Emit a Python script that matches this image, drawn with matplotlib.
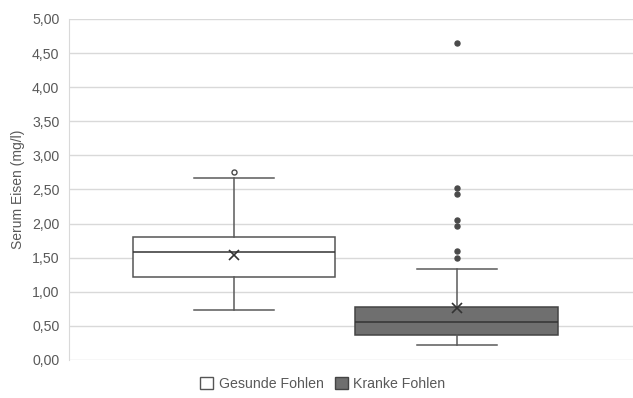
import matplotlib.pyplot as plt
from matplotlib.patches import Patch
from matplotlib.ticker import FuncFormatter

plt.rcParams['font.family'] = ['Liberation Sans', 'DejaVu Sans']

gruppen = ['Gesunde Fohlen', 'Kranke Fohlen']
median = [1.58, 0.56]
q1 = [1.22, 0.37]
q3 = [1.80, 0.78]
whisker_unten = [0.73, 0.22]
whisker_oben = [2.67, 1.33]
mittelwert = [1.54, 0.76]
ausreisser = [[2.76], [4.65, 2.52, 2.43, 2.05, 1.96, 1.60, 1.50]]

fuellung = ['white', '#6f6f6f']
rand = ['#555555', '#444444']
punkt = ['white', '#4a4a4a']

fig = plt.figure(figsize=(6.33, 3.98), dpi=100)
ax = fig.add_axes([0.109, 0.0955, 0.891, 0.857])

for i in range(2):
    stats = [{
        'med': median[i], 'q1': q1[i], 'q3': q3[i],
        'whislo': whisker_unten[i], 'whishi': whisker_oben[i],
        'mean': mittelwert[i], 'fliers': ausreisser[i],
    }]
    ax.bxp(stats, positions=[i + 1], widths=0.91, patch_artist=True,
           showmeans=True, showfliers=True,
           boxprops=dict(facecolor=fuellung[i], edgecolor=rand[i], linewidth=1.1),
           medianprops=dict(color='#333333', linewidth=1.1),
           whiskerprops=dict(color='#5a5a5a', linewidth=1.1),
           capprops=dict(color='#5a5a5a', linewidth=1.1),
           capwidths=0.36,
           meanprops=dict(marker='x', markeredgecolor='#333333', markersize=7,
                          markeredgewidth=1.2),
           flierprops=dict(marker='o', markerfacecolor=punkt[i],
                           markeredgecolor='#4a4a4a', markersize=3.6,
                           markeredgewidth=1.0))

ax.set_xlim(0.26, 2.79)
ax.set_ylim(0, 5)
ax.set_yticks([i * 0.5 for i in range(11)])
ax.yaxis.set_major_formatter(FuncFormatter(lambda v, p: f'{v:.2f}'.replace('.', ',')))
ax.set_xticks([])
ax.grid(axis='y', color='#d9d9d9', linewidth=1)
ax.set_axisbelow(True)
for s in ['top', 'right', 'bottom']:
    ax.spines[s].set_visible(False)
ax.spines['left'].set_color('#d9d9d9')
ax.tick_params(axis='y', length=0, pad=7, labelsize=10.2, labelcolor='#595959')
ax.set_ylabel('Serum Eisen (mg/l)', fontsize=10, color='#595959', labelpad=5)

handles = [Patch(facecolor=fuellung[i], edgecolor=rand[i], label=gruppen[i]) for i in range(2)]
fig.legend(handles=handles, loc='lower center', bbox_to_anchor=(0.51, -0.015), ncol=2,
           frameon=False, fontsize=10.2, labelcolor='#595959', handlelength=0.9,
           handleheight=0.9, handletextpad=0.4, columnspacing=0.8)

fig.savefig('out.png', dpi=100)
